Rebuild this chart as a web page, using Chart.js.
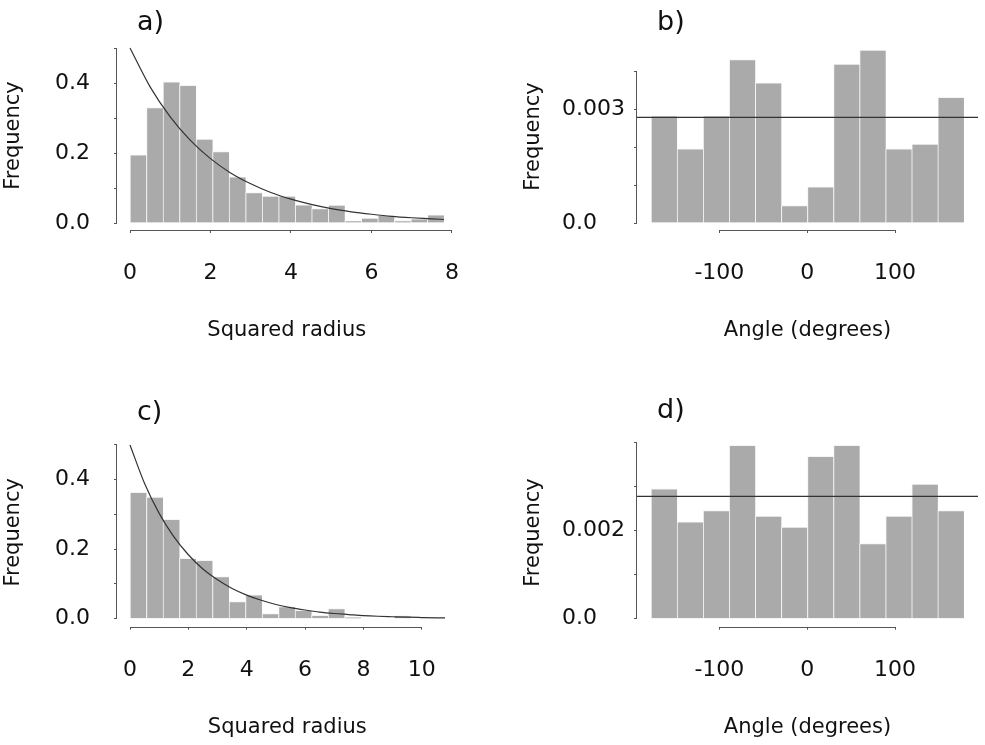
<!DOCTYPE html>
<html>
<head>
<meta charset="utf-8">
<script src="https://cdn.jsdelivr.net/npm/chart.js@4.4.1/dist/chart.umd.min.js"></script>
<style>
  html, body { margin: 0; padding: 0; background: #ffffff; width: 985px; height: 745px; overflow: hidden; }
  canvas { position: absolute; left: 0; top: 0; }
</style>
</head>
<body>
<canvas id="pa" width="985" height="800"></canvas>
<canvas id="pb" width="985" height="800"></canvas>
<canvas id="pc" width="985" height="800"></canvas>
<canvas id="pd" width="985" height="800"></canvas>
<script>
// ---------------- data ----------------
// a) squared radius histogram (19 bins from 0 to 7.8)
const binMidsA = [0.2053, 0.6158, 1.0263, 1.4368, 1.8474, 2.2579, 2.6684, 3.0789, 3.4895, 3.9000,
                  4.3105, 4.7211, 5.1316, 5.5421, 5.9526, 6.3632, 6.7737, 7.1842, 7.5947];
const freqA = [0.195, 0.330, 0.403, 0.393, 0.240, 0.204, 0.132, 0.087, 0.077, 0.077,
               0.052, 0.041, 0.051, 0.006, 0.014, 0.022, 0.007, 0.012, 0.023];
const curveXA = [0, 0.5, 1, 1.5, 2, 2.5, 3, 3.5, 4, 4.5, 5, 5.5, 6, 6.5, 7, 7.5, 7.8];
const curveYA = [0.500, 0.389, 0.303, 0.236, 0.184, 0.143, 0.112, 0.087, 0.068, 0.053,
                 0.041, 0.032, 0.025, 0.019, 0.015, 0.012, 0.010];

// c) squared radius histogram (17 bins from 0 to 9.62)
const binMidsC = [0.2829, 0.8488, 1.4147, 1.9806, 2.5465, 3.1124, 3.6782, 4.2441, 4.8100,
                  5.3759, 5.9418, 6.5077, 7.0735, 7.6394, 8.2053, 8.7712, 9.3371];
const freqC = [0.364, 0.350, 0.286, 0.174, 0.168, 0.121, 0.049, 0.069, 0.015,
               0.035, 0.024, 0.010, 0.029, 0.004, 0, 0, 0.009];
const curveXC = [0, 0.5, 1, 1.5, 2, 2.5, 3, 3.5, 4, 4.5, 5, 5.5, 6, 6.5, 7, 7.5, 8, 8.5, 9, 9.5, 10, 10.5, 10.8];
const curveYC = [0.500, 0.389, 0.303, 0.236, 0.184, 0.143, 0.112, 0.087, 0.068, 0.053, 0.041, 0.032,
                 0.025, 0.019, 0.015, 0.012, 0.009, 0.007, 0.0056, 0.0043, 0.0034, 0.0026, 0.0023];

// b), d) angle histograms (12 bins)
const binMidsAngle = [-162.95, -133.26, -103.57, -73.88, -44.19, -14.50, 15.19, 44.88, 74.57, 104.26, 133.95, 163.64];
const freqB = [0.00282, 0.00195, 0.00282, 0.00430, 0.00369, 0.00046, 0.00095, 0.00418, 0.00455, 0.00195, 0.00208, 0.00331];
const freqD = [0.00295, 0.00220, 0.00246, 0.00394, 0.00233, 0.00208, 0.00369, 0.00394, 0.00171, 0.00233, 0.00306, 0.00246];
const uniformDensity = 0.00278;

// ticks
const xTicksA = [0, 2, 4, 6, 8];            const xLabelsA = ['0', '2', '4', '6', '8'];
const xTicksC = [0, 2, 4, 6, 8, 10];        const xLabelsC = ['0', '2', '4', '6', '8', '10'];
const xTicksAngle = [-100, 0, 100];         const xLabelsAngle = ['-100', '0', '100'];
const yTicksR = [0, 0.1, 0.2, 0.3, 0.4, 0.5];  const yLabelsR = ['0.0', '', '0.2', '', '0.4', ''];
const yTicksB = [0, 0.001, 0.002, 0.003, 0.004]; const yLabelsB = ['0.0', '', '', '0.003', ''];
const yTicksD = [0, 0.001, 0.002, 0.003, 0.004]; const yLabelsD = ['0.0', '', '0.002', '', ''];

// ---------------- styling ----------------
const FONT = "'DejaVu Sans', sans-serif";
const TEXT = '#111111';
const BAR = '#aaaaaa';
const BAR_EDGE = '#f4f4f4';
const AXIS = '#555555';
const CURVE = '#333333';

// R-style axes: lines span only from first to last tick; panel letter
const rAxes = {
  id: 'rAxes',
  afterDraw(chart) {
    const { ctx, chartArea: ca, scales: { x, y } } = chart;
    ctx.save();
    ctx.strokeStyle = AXIS;
    ctx.lineWidth = 1;
    ctx.beginPath();
    const xl = Math.round(ca.left) - 0.5;
    ctx.moveTo(xl, y.getPixelForValue(y.ticks[0].value));
    ctx.lineTo(xl, y.getPixelForValue(y.ticks[y.ticks.length - 1].value));
    const yb = Math.round(ca.bottom) + 0.5;
    ctx.moveTo(x.getPixelForValue(x.ticks[0].value), yb);
    ctx.lineTo(x.getPixelForValue(x.ticks[x.ticks.length - 1].value), yb);
    ctx.stroke();
    const pl = chart.options.plugins.panelLabel;
    ctx.fillStyle = TEXT;
    ctx.font = '27px ' + FONT;
    ctx.textAlign = 'left';
    ctx.textBaseline = 'alphabetic';
    ctx.fillText(pl.text, ca.left + pl.dx, pl.baseline);
    ctx.restore();
  }
};

function makePanel(id, p) {
  return new Chart(document.getElementById(id), {
    type: 'bar',
    data: {
      datasets: [
        {
          type: 'line', data: p.line, xAxisID: 'x', yAxisID: 'y',
          borderColor: CURVE, borderWidth: 1.2, pointRadius: 0,
          cubicInterpolationMode: 'monotone', order: 0, clip: 0
        },
        {
          type: 'bar', data: p.bars, xAxisID: 'x', yAxisID: 'y',
          backgroundColor: BAR, borderColor: BAR_EDGE,
          borderWidth: { top: 1, left: 1, right: 0, bottom: 0 }, borderSkipped: false,
          barPercentage: 1, categoryPercentage: 1, order: 1
        }
      ]
    },
    options: {
      responsive: false, animation: false, events: [],
      layout: { padding: p.pad },
      plugins: {
        legend: { display: false }, tooltip: { enabled: false },
        panelLabel: { text: p.label, dx: 20, baseline: p.labelBaseline }
      },
      scales: {
        x: {
          type: 'linear', position: 'bottom', min: p.xMin, max: p.xMax, offset: false,
          grid: { display: true, drawOnChartArea: false, drawTicks: true, tickLength: 3, color: AXIS, offset: false },
          border: { display: false },
          afterBuildTicks: s => { s.ticks = p.xTicks.map(v => ({ value: v })); },
          afterFit: s => { s.height = 120; },
          ticks: { autoSkip: false, maxRotation: 0, padding: 27.5, color: TEXT,
                   font: { family: FONT, size: 22 }, callback: (v, i) => p.xLabels[i] },
          title: { display: true, text: p.xTitle, color: TEXT, font: { family: FONT, size: 21 },
                   padding: { top: 0, bottom: 6.4 } }
        },
        y: {
          type: 'linear', position: 'left', weight: 0, min: p.yMin, max: p.yMax,
          grid: { display: true, drawOnChartArea: false, drawTicks: true, tickLength: 3, color: AXIS },
          border: { display: false },
          afterBuildTicks: s => { s.ticks = p.yTicks.map(v => ({ value: v })); },
          afterFit: s => { s.width = p.yW; },
          ticks: { autoSkip: false, crossAlign: 'far', color: TEXT,
                   font: { family: FONT, size: 22 }, callback: (v, i) => p.yLabels[i] }
        },
        yt: {
          type: 'linear', position: 'left', weight: 1, min: 0, max: 1,
          grid: { display: false }, border: { display: false }, ticks: { display: false },
          afterFit: s => { s.width = p.ytW; },
          title: { display: true, text: 'Frequency', color: TEXT, font: { family: FONT, size: 21 },
                   padding: { top: 1, bottom: 0 } }
        }
      }
    },
    plugins: [rAxes]
  });
}

const toPts = (xs, ys) => xs.map((v, i) => ({ x: v, y: ys[i] }));

makePanel('pa', {
  bars: toPts(binMidsA, freqA), line: toPts(curveXA, curveYA),
  xMin: -0.323, xMax: 8.112, yMin: -0.02, yMax: 0.52,
  xTicks: xTicksA, xLabels: xLabelsA, yTicks: yTicksR, yLabels: yLabelsR,
  xTitle: 'Squared radius', label: 'a)', labelBaseline: 30,
  pad: { left: 0, top: 41, right: 528.5, bottom: 450 }, ytW: 55, yW: 62
});
makePanel('pb', {
  bars: toPts(binMidsAngle, freqB), line: [{ x: -193.8, y: uniformDensity }, { x: 194.5, y: uniformDensity }],
  xMin: -193.8, xMax: 194.5, yMin: -0.000184, yMax: 0.004737,
  xTicks: xTicksAngle, xLabels: xLabelsAngle, yTicks: yTicksB, yLabels: yLabelsB,
  xTitle: 'Angle (degrees)', label: 'b)', labelBaseline: 30,
  pad: { left: 520, top: 43, right: 7, bottom: 450 }, ytW: 42, yW: 75
});
makePanel('pc', {
  bars: toPts(binMidsC, freqC), line: toPts(curveXC, curveYC),
  xMin: -0.446, xMax: 11.23, yMin: -0.023, yMax: 0.52,
  xTicks: xTicksC, xLabels: xLabelsC, yTicks: yTicksR, yLabels: yLabelsR,
  xTitle: 'Squared radius', label: 'c)', labelBaseline: 420,
  pad: { left: 0, top: 438, right: 527.4, bottom: 53.3 }, ytW: 55, yW: 62
});
makePanel('pd', {
  bars: toPts(binMidsAngle, freqD), line: [{ x: -193.8, y: uniformDensity }, { x: 194.5, y: uniformDensity }],
  xMin: -193.8, xMax: 194.5, yMin: -0.000182, yMax: 0.0041,
  xTicks: xTicksAngle, xLabels: xLabelsAngle, yTicks: yTicksD, yLabels: yLabelsD,
  xTitle: 'Angle (degrees)', label: 'd)', labelBaseline: 418,
  pad: { left: 520, top: 438.3, right: 7, bottom: 53.3 }, ytW: 42, yW: 75
});
</script>
</body>
</html>
